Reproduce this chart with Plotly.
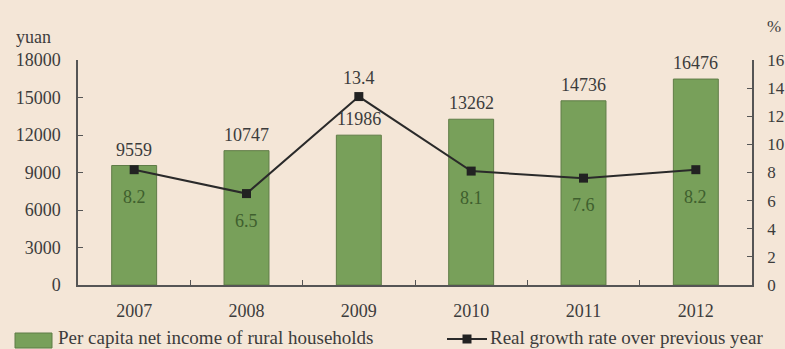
import plotly.graph_objects as go

# Data
years = ["2007", "2008", "2009", "2010", "2011", "2012"]
income = [9559, 10747, 11986, 13262, 14736, 16476]
growth = [8.2, 6.5, 13.4, 8.1, 7.6, 8.2]
income_ticks = [0, 3000, 6000, 9000, 12000, 15000, 18000]
growth_ticks = [0, 2, 4, 6, 8, 10, 12, 14, 16]

# Canvas and plot area (pixels)
W, H = 785, 349
ML, MR, MT, MB = 78, 33, 60, 64
PW, PH = W - ML - MR, H - MT - MB

FONT = "Liberation Serif"
BG = "#f4e6d7"
BAR = "#78a05a"
BAR_EDGE = "#5f7c47"
INK = "#3c3c3c"
LINE = "#2a2a2a"
AXIS = "#555555"


def px(x):
    return (x - ML) / PW


def py(y):
    return (H - MB - y) / PH


fig = go.Figure()

fig.add_trace(go.Bar(
    x=years, y=income, width=0.4,
    marker=dict(color=BAR, line=dict(color=BAR_EDGE, width=1)),
    showlegend=False, hoverinfo="skip",
))

fig.add_trace(go.Scatter(
    x=years, y=growth, yaxis="y2", mode="lines+markers",
    line=dict(color=LINE, width=2),
    marker=dict(symbol="square", size=9, color="#222222"),
    showlegend=False, hoverinfo="skip",
))

annotations = []
# income values above the bars (category index as x position)
for i, v in enumerate(income):
    annotations.append(dict(
        x=i, y=v, xref="x", yref="y", text=str(v), showarrow=False,
        yshift=16, font=dict(family=FONT, size=18, color=INK),
    ))
# growth rates: under the marker, or above it at the peak
peak = max(growth)
for i, g in enumerate(growth):
    annotations.append(dict(
        x=i, y=g, xref="x", yref="y2", text=f"{g:.1f}", showarrow=False,
        yshift=19 if g == peak else -27,
        font=dict(family=FONT, size=18,
                  color=INK if g == peak else "#3f5f2e"),
    ))

# axis units
annotations.append(dict(x=px(14), y=py(37), xref="paper", yref="paper",
                        text="yuan", showarrow=False, xanchor="left",
                        yanchor="middle",
                        font=dict(family=FONT, size=18, color=INK)))
annotations.append(dict(x=px(765), y=py(27), xref="paper", yref="paper",
                        text="%", showarrow=False, xanchor="left",
                        yanchor="middle",
                        font=dict(family=FONT, size=17, color=INK)))

# legend texts
annotations.append(dict(x=px(57), y=py(349), xref="paper", yref="paper",
                        text="Per capita net income of rural households",
                        showarrow=False, xanchor="left", yanchor="bottom",
                        borderpad=0,
                        font=dict(family=FONT, size=19, color=INK)))
annotations.append(dict(x=px(489), y=py(349), xref="paper", yref="paper",
                        text="Real growth rate over previous year",
                        showarrow=False, xanchor="left", yanchor="bottom",
                        borderpad=0,
                        font=dict(family=FONT, size=19, color=INK)))

shapes = [
    # legend swatch for bars
    dict(type="rect", xref="paper", yref="paper",
         x0=px(15), x1=px(52), y0=py(348), y1=py(333),
         fillcolor=BAR, line=dict(color=BAR_EDGE, width=1)),
    # legend line + marker
    dict(type="line", xref="paper", yref="paper",
         x0=px(447), x1=px(487), y0=py(339), y1=py(339),
         line=dict(color=LINE, width=2)),
    dict(type="rect", xref="paper", yref="paper",
         x0=px(462.5), x1=px(471.5), y0=py(343.5), y1=py(334.5),
         fillcolor="#222222", line=dict(width=0)),
]

tickfont = dict(family=FONT, size=18, color=INK)

fig.update_layout(
    width=W, height=H, autosize=False,
    margin=dict(l=ML, r=MR, t=MT, b=MB),
    paper_bgcolor=BG, plot_bgcolor=BG,
    annotations=annotations, shapes=shapes,
    xaxis=dict(
        type="category", range=[-0.5, 5.5], automargin=False,
        showline=True, linecolor=AXIS, linewidth=1.5,
        ticks="inside", tickson="boundaries", ticklen=5,
        tickcolor=AXIS, tickwidth=1.2,
        tickfont=tickfont, ticklabelstandoff=9,
        showgrid=False, zeroline=False,
    ),
    yaxis=dict(
        range=[0, 18000], tickvals=income_ticks, tickformat="d",
        automargin=False,
        showline=True, linecolor=AXIS, linewidth=1.5,
        ticks="inside", ticklen=5, tickcolor=AXIS, tickwidth=1.2,
        tickfont=tickfont, ticklabelstandoff=12,
        showgrid=False, zeroline=False,
    ),
    yaxis2=dict(
        overlaying="y", side="right", automargin=False,
        range=[0, 16], tickvals=growth_ticks,
        showline=True, linecolor=AXIS, linewidth=1.5,
        ticks="inside", ticklen=5, tickcolor=AXIS, tickwidth=1.2,
        tickfont=dict(family=FONT, size=17, color=INK),
        ticklabelstandoff=10,
        showgrid=False, zeroline=False,
    ),
)

fig.write_html("out.html")
